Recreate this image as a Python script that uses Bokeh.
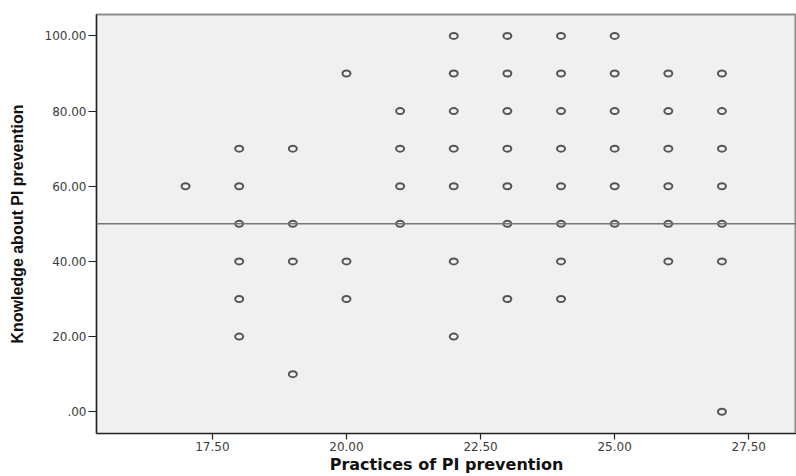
from bokeh.plotting import figure
from bokeh.models import Span, Range1d, FixedTicker
from bokeh.embed import file_html
from bokeh.resources import INLINE

# Data (practices score vs knowledge score)
practices = [17,
             18, 18, 18, 18, 18, 18,
             19, 19, 19, 19,
             20, 20, 20,
             21, 21, 21, 21,
             22, 22, 22, 22, 22, 22, 22,
             23, 23, 23, 23, 23, 23, 23,
             24, 24, 24, 24, 24, 24, 24, 24,
             25, 25, 25, 25, 25, 25,
             26, 26, 26, 26, 26, 26,
             27, 27, 27, 27, 27, 27, 27]
knowledge = [60,
             70, 60, 50, 40, 30, 20,
             70, 50, 40, 10,
             90, 40, 30,
             80, 70, 60, 50,
             100, 90, 80, 70, 60, 40, 20,
             100, 90, 80, 70, 60, 50, 30,
             100, 90, 80, 70, 60, 50, 40, 30,
             100, 90, 80, 70, 60, 50,
             90, 80, 70, 60, 50, 40,
             90, 80, 70, 60, 50, 40, 0]

x_ticks = [17.5, 20.0, 22.5, 25.0, 27.5]
x_tick_labels = ["17.50", "20.00", "22.50", "25.00", "27.50"]
y_ticks = [0, 20, 40, 60, 80, 100]
y_tick_labels = [".00", "20.00", "40.00", "60.00", "80.00", "100.00"]
reference_value = 50

p = figure(width=796, height=476, output_backend="svg", toolbar_location=None,
           x_range=Range1d(15.34, 28.39), y_range=Range1d(-5.8, 105.7),
           min_border_left=96, min_border_top=14, min_border_right=0,
           min_border_bottom=41)

p.background_fill_color = "#f0f0f0"
p.border_fill_color = "white"
p.outline_line_color = "#8a8a8a"
p.outline_line_width = 2
p.xgrid.visible = False
p.ygrid.visible = False

# reference line
p.add_layout(Span(location=reference_value, dimension="width",
                  line_color="#777777", line_width=1.5))

p.ellipse(x=practices, y=knowledge, width=8, height=6,
          width_units="screen", height_units="screen",
          fill_color=None, line_color="#444444", line_width=2, line_alpha=0.9)

for ax in (p.xaxis[0], p.yaxis[0]):
    ax.axis_line_color = "#222222"
    ax.axis_line_width = 1.2
    ax.major_tick_line_color = "#222222"
    ax.major_tick_line_width = 1.2
    ax.major_tick_in = 0
    ax.minor_tick_line_color = None
    ax.major_label_text_font = "DejaVu Sans"
    ax.major_label_text_font_size = "12px"
    ax.major_label_text_color = "#3c3c3c"

p.xaxis.ticker = FixedTicker(ticks=x_ticks)
p.xaxis.major_label_overrides = dict(zip(x_ticks, x_tick_labels))
p.yaxis.ticker = FixedTicker(ticks=y_ticks)
p.yaxis.major_label_overrides = dict(zip(y_ticks, y_tick_labels))

p.xaxis.major_tick_out = 6
p.yaxis.major_tick_out = 8
p.xaxis.major_label_standoff = 2
p.yaxis.major_label_standoff = 2

p.xaxis.axis_label = "Practices of PI prevention"
p.xaxis.axis_label_text_font = "DejaVu Sans"
p.xaxis.axis_label_text_font_style = "bold"
p.xaxis.axis_label_text_font_size = "16px"
p.xaxis.axis_label_text_color = "#111111"
p.xaxis.axis_label_standoff = 1

p.yaxis.axis_label = "Knowledge about PI prevention"
p.yaxis.axis_label_text_font = "Liberation Sans"
p.yaxis.axis_label_text_font_style = "bold"
p.yaxis.axis_label_text_font_size = "16px"
p.yaxis.axis_label_text_color = "#111111"
p.yaxis.axis_label_standoff = 16

open("out.html", "w").write(file_html(p, INLINE))
